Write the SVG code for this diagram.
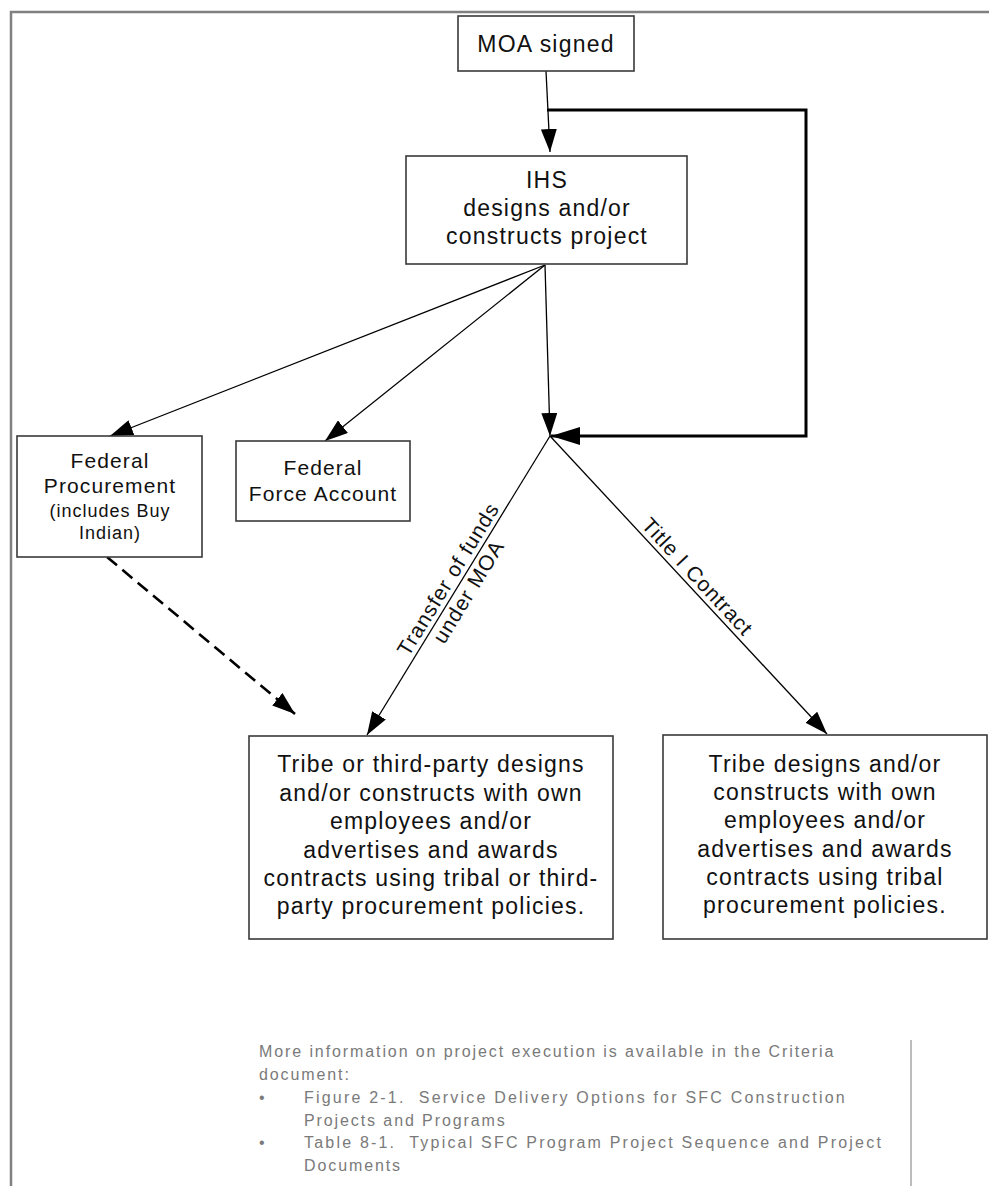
<svg xmlns="http://www.w3.org/2000/svg" width="989" height="1186" viewBox="0 0 989 1186">
<style>
  .box { fill: #ffffff; stroke: #3a3a3a; stroke-width: 1.6; }
  .t { font-family: "Liberation Sans", Arial, Helvetica, sans-serif; fill: #111111; text-anchor: middle; }
  .big { font-size: 23px; letter-spacing: 1.2px; }
  .mid { font-size: 21px; letter-spacing: 1.1px; }
  .sm { font-size: 18px; letter-spacing: 1px; }
  .lbl { font-family: "Liberation Sans", Arial, Helvetica, sans-serif; fill: #111111; font-size: 21px; letter-spacing: 1px; text-anchor: middle; }
  .conn { fill: none; stroke: #000000; stroke-width: 1.3; }
  .note { font-family: "Liberation Sans", Arial, Helvetica, sans-serif; fill: #7a7a7a; font-size: 16px; letter-spacing: 1.9px; }
  .wide { letter-spacing: 2.2px; }
</style>
<defs>
  <marker id="ah" viewBox="0 0 23 16" refX="23" refY="8" markerWidth="23" markerHeight="16" markerUnits="userSpaceOnUse" orient="auto">
    <path d="M0,0 L23,8 L0,16 z" fill="#000000"/>
  </marker>
  <marker id="ahb" viewBox="0 0 29 18" refX="29" refY="9" markerWidth="29" markerHeight="18" markerUnits="userSpaceOnUse" orient="auto">
    <path d="M0,0 L29,9 L0,18 z" fill="#000000"/>
  </marker>
</defs>

<rect x="0" y="0" width="989" height="1186" fill="#ffffff"/>

<!-- page frame -->
<path d="M11,1186 V12 H989" fill="none" stroke="#808080" stroke-width="2.5"/>

<!-- connectors -->
<g id="connectors">
  <path class="conn" d="M546,71 L550,152" marker-end="url(#ah)"/>
  <path d="M547,110 H806 V436 H551" fill="none" stroke="#000000" stroke-width="3" marker-end="url(#ahb)"/>
  <path class="conn" d="M545,265 L110,436" marker-end="url(#ah)"/>
  <path class="conn" d="M545,265 L325,441" marker-end="url(#ah)"/>
  <path class="conn" d="M545,265 L550,436" marker-end="url(#ah)"/>
  <path class="conn" d="M550,436 L367,735" marker-end="url(#ah)"/>
  <path class="conn" d="M550,436 L827,734" marker-end="url(#ah)"/>
  <path d="M107,557 L295,714" fill="none" stroke="#000000" stroke-width="2.6" stroke-dasharray="13,7" marker-end="url(#ah)"/>
  <g id="label-transfer" transform="translate(458.5,585.5) rotate(-58.5)">
    <text class="lbl" x="0" y="-5">Transfer of funds</text>
    <text class="lbl" x="0" y="19">under MOA</text>
  </g>
  <g id="label-title" transform="translate(688.5,585) rotate(47.1)">
    <text class="lbl" x="0" y="-5">Title I Contract</text>
  </g>
</g>

<!-- nodes -->
<g id="moa">
  <rect class="box" x="458" y="16" width="176" height="55"/>
  <text class="t big" x="546" y="52">MOA signed</text>
</g>

<g id="ihs">
  <rect class="box" x="406" y="156" width="281" height="108"/>
  <text class="t big" x="547" y="188">IHS</text>
  <text class="t big" x="547" y="216">designs and/or</text>
  <text class="t big" x="547" y="244">constructs project</text>
</g>

<g id="fed-procurement">
  <rect class="box" x="17" y="436" width="185" height="121"/>
  <text class="t mid" x="110" y="468">Federal</text>
  <text class="t mid" x="110" y="493">Procurement</text>
  <text class="t sm" x="110" y="517">(includes Buy</text>
  <text class="t sm" x="110" y="539">Indian)</text>
</g>

<g id="fed-force-account">
  <rect class="box" x="236" y="441" width="174" height="80"/>
  <text class="t mid" x="323" y="475">Federal</text>
  <text class="t mid" x="323" y="501">Force Account</text>
</g>

<g id="tribe-third-party">
  <rect class="box" x="249" y="736" width="364" height="203"/>
  <text class="t big" x="431" y="772">Tribe or third-party designs</text>
  <text class="t big" x="431" y="801">and/or constructs with own</text>
  <text class="t big" x="431" y="829">employees and/or</text>
  <text class="t big" x="431" y="858">advertises and awards</text>
  <text class="t big" x="431" y="886">contracts using tribal or third-</text>
  <text class="t big" x="431" y="914">party procurement policies.</text>
</g>

<g id="tribe-title-i">
  <rect class="box" x="663" y="735" width="324" height="204"/>
  <text class="t big" x="825" y="772">Tribe designs and/or</text>
  <text class="t big" x="825" y="800">constructs with own</text>
  <text class="t big" x="825" y="828">employees and/or</text>
  <text class="t big" x="825" y="857">advertises and awards</text>
  <text class="t big" x="825" y="885">contracts using tribal</text>
  <text class="t big" x="825" y="913">procurement policies.</text>
</g>

<!-- note -->
<g id="note">
  <line x1="911" y1="1040" x2="911" y2="1186" stroke="#7a7a7a" stroke-width="1"/>
  <text class="note" x="259" y="1057">More information on project execution is available in the Criteria</text>
  <text class="note" x="259" y="1080">document:</text>
  <text class="note" x="259" y="1103">•</text>
  <text class="note wide" x="304" y="1103" xml:space="preserve">Figure 2-1.  Service Delivery Options for SFC Construction</text>
  <text class="note" x="304" y="1126">Projects and Programs</text>
  <text class="note" x="259" y="1148">•</text>
  <text class="note wide" x="304" y="1148" xml:space="preserve">Table 8-1.  Typical SFC Program Project Sequence and Project</text>
  <text class="note" x="304" y="1171">Documents</text>
</g>
</svg>
